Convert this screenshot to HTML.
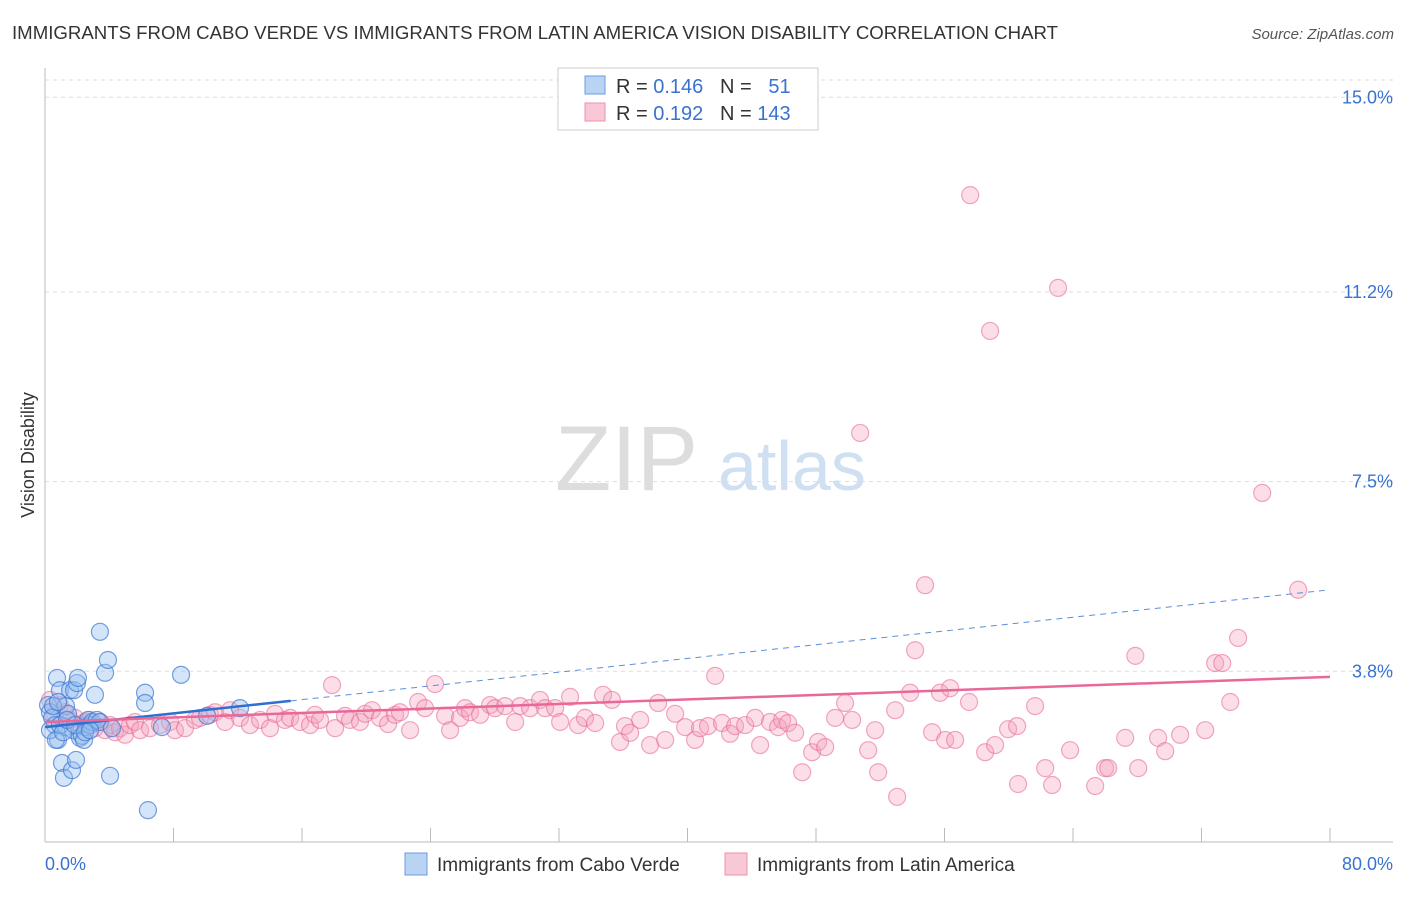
<!DOCTYPE html>
<html><head><meta charset="utf-8"><style>
body{margin:0;background:#fff;font-family:"Liberation Sans",sans-serif}
svg text{font-family:"Liberation Sans",sans-serif}
</style></head><body>
<svg id="c" width="1406" height="892">
<text x="12" y="39" font-size="18" fill="#333" textLength="1046" lengthAdjust="spacingAndGlyphs">IMMIGRANTS FROM CABO VERDE VS IMMIGRANTS FROM LATIN AMERICA VISION DISABILITY CORRELATION CHART</text>
<text x="1394" y="39" font-size="15" fill="#555" text-anchor="end" font-style="italic">Source: ZipAtlas.com</text>
<text x="555" y="490" font-size="92" fill="#ddd" font-family="Liberation Serif">ZIP</text>
<text x="718" y="490" font-size="70" fill="#cfe0f3">atlas</text>
<text transform="translate(34,455) rotate(-90)" font-size="18" fill="#333" text-anchor="middle">Vision Disability</text>
<g id="grid"></g><g id="pts"></g><g id="lines"></g>
<g>
<rect x="558" y="68" width="260" height="62" fill="#fff" stroke="#ccc"/>
<rect x="585" y="76" width="20" height="18" fill="#b9d3f3" stroke="#6a9be0"/>
<rect x="585" y="103" width="20" height="18" fill="#f9c8d6" stroke="#ee90ad"/>
<text x="616" y="93" font-size="20" fill="#333">R = <tspan fill="#3a72d0">0.146</tspan>&#160;&#160;&#160;N = &#160;&#160;<tspan fill="#3a72d0">51</tspan></text>
<text x="616" y="120" font-size="20" fill="#333">R = <tspan fill="#3a72d0">0.192</tspan>&#160;&#160;&#160;N = <tspan fill="#3a72d0">143</tspan></text>
</g>
<g>
<rect x="405" y="853" width="22" height="22" fill="#b9d3f3" stroke="#6a9be0"/>
<text x="437" y="871" font-size="19" fill="#333">Immigrants from Cabo Verde</text>
<rect x="725" y="853" width="22" height="22" fill="#f9c8d6" stroke="#ee90ad"/>
<text x="757" y="871" font-size="19" fill="#333">Immigrants from Latin America</text>
</g>
<text x="45" y="870" font-size="18" fill="#3a72d0">0.0%</text>
<text x="1393" y="870" font-size="18" fill="#3a72d0" text-anchor="end">80.0%</text>
</svg>
<script>
const yTicks=[15.0,11.2,7.5,3.8];
const xTicks=[0,8,16,24,32,40,48,56,64,72,80];
const blueX=[0.19,0.31,0.44,0.62,0.75,0.81,0.93,1.06,1.18,1.25,1.31,1.43,1.56,1.68,1.74,1.81,1.93,1.99,2.05,2.18,2.30,2.43,2.55,2.68,2.80,2.93,3.11,3.24,3.42,3.42,3.74,3.92,4.05,4.17,6.23,6.23,6.41,7.28,8.47,10.09,12.14,0.31,0.50,0.68,0.93,0.81,1.12,1.37,1.87,2.49,2.80];
const blueY=[3.14,3.00,2.89,2.75,3.67,2.46,3.43,2.01,1.72,2.71,3.12,2.97,3.43,1.87,2.65,3.43,2.07,3.57,3.67,2.50,2.54,2.46,2.71,2.85,2.75,2.81,3.34,2.85,4.57,2.81,3.77,4.02,1.76,2.69,3.38,3.18,1.09,2.71,3.73,2.93,3.08,2.65,3.12,2.46,2.75,3.20,2.61,2.85,2.75,2.61,2.65];
const pinkX=[0.31,0.62,0.93,1.25,1.56,1.87,2.18,2.49,2.80,3.11,3.42,3.74,4.05,4.36,4.67,4.98,5.29,5.60,5.92,6.54,7.16,7.78,8.09,8.72,9.34,9.65,10.27,10.59,11.21,11.52,12.14,12.76,13.39,14.01,14.32,14.94,15.26,15.88,16.50,16.81,17.12,17.87,18.06,18.68,18.99,19.61,19.93,20.36,20.86,21.36,21.79,22.10,22.73,23.23,23.66,24.28,24.91,25.22,25.84,26.15,26.46,27.09,27.71,28.02,28.64,29.27,29.58,30.20,30.82,31.13,31.76,32.07,32.69,33.19,33.62,34.25,34.74,35.30,35.80,36.11,36.43,37.05,37.67,38.17,38.61,39.23,39.85,40.47,40.78,41.28,41.72,42.15,42.65,42.96,43.59,44.21,44.52,45.14,45.64,45.89,46.26,46.70,47.14,47.76,48.13,48.57,49.19,49.81,50.25,50.75,51.25,51.68,51.87,52.93,53.05,53.86,54.17,54.79,55.23,55.72,56.04,56.35,56.66,57.53,57.60,58.53,58.84,59.15,59.96,60.52,60.58,61.64,62.27,62.70,63.07,63.82,65.38,66.00,66.19,67.25,67.88,68.06,69.30,69.74,70.67,72.23,72.85,73.29,73.79,74.28,75.78,78.02];
const pinkY=[3.24,2.95,3.14,3.00,2.85,2.89,2.75,2.81,2.85,2.69,2.81,2.65,2.75,2.61,2.69,2.56,2.75,2.81,2.65,2.69,2.75,2.81,2.65,2.69,2.85,2.89,2.95,3.00,2.81,3.04,2.89,2.75,2.85,2.69,2.97,2.85,2.89,2.81,2.75,2.95,2.85,3.53,2.69,2.93,2.85,2.81,2.97,3.04,2.89,2.77,2.95,3.00,2.65,3.20,3.08,3.55,2.93,2.65,2.89,3.08,3.00,2.95,3.14,3.08,3.12,2.81,3.12,3.08,3.24,3.08,3.08,2.81,3.30,2.75,2.89,2.79,3.34,3.24,2.42,2.73,2.60,2.85,2.36,3.18,2.46,2.97,2.71,2.46,2.69,2.73,3.71,2.79,2.58,2.73,2.75,2.89,2.36,2.81,2.71,2.85,2.79,2.60,1.83,2.22,2.42,2.32,2.89,3.18,2.85,8.45,2.26,2.65,1.83,3.04,1.35,3.38,4.21,5.48,2.61,3.38,2.46,3.47,2.46,3.20,13.09,2.22,10.44,2.36,2.67,2.73,1.60,3.12,1.91,1.58,11.28,2.26,1.56,1.91,1.91,2.50,4.10,1.91,2.50,2.24,2.56,2.65,3.96,3.96,3.20,4.45,7.28,5.39];
const blueFit=[2.71,0.0335,15.3];
const pinkFit=[2.81,0.011];
const NS='http://www.w3.org/2000/svg';
const X=v=>45+v/80*1285, Y=v=>866-v*51.25;
function mk(t,a,p){const e=document.createElementNS(NS,t);for(const k in a)e.setAttribute(k,a[k]);p.appendChild(e);return e;}
const grid=document.getElementById('grid'),pts=document.getElementById('pts'),lines=document.getElementById('lines');
mk('line',{x1:45,y1:68,x2:45,y2:842,stroke:'#bbb'},grid);
mk('line',{x1:45,y1:842,x2:1393,y2:842,stroke:'#bbb'},grid);
mk('line',{x1:45,y1:80,x2:1393,y2:80,stroke:'#ddd','stroke-dasharray':'4,4'},grid);
yTicks.forEach(v=>{
const l=mk('line',{x1:45,y1:Y(v),x2:1393,y2:Y(v),stroke:'#ddd','stroke-dasharray':'4,4'},grid);


const t=mk('text',{x:1393,y:Y(v)+6,'font-size':18,fill:'#3a72d0','text-anchor':'end'},grid);t.textContent=v.toFixed(1)+'%';


});
xTicks.forEach(v=>{
const l=mk('line',{x1:X(v),y1:828,x2:X(v),y2:842,stroke:'#bbb'},grid);


});
pinkX.forEach((x,i)=>{
const c=mk('circle',{cx:X(x),cy:Y(pinkY[i]),r:8.5,fill:'rgba(244,160,188,0.35)',stroke:'rgba(232,110,150,0.6)','stroke-width':1.2},pts);


});
blueX.forEach((x,i)=>{
const c=mk('circle',{cx:X(x),cy:Y(blueY[i]),r:8.5,fill:'rgba(150,190,240,0.4)',stroke:'rgba(60,120,210,0.7)','stroke-width':1.2},pts);


});
const bf=v=>blueFit[0]+blueFit[1]*v, pf=v=>pinkFit[0]+pinkFit[1]*v;
let l=mk('line',{x1:X(blueFit[2]),y1:Y(bf(blueFit[2])),x2:X(80),y2:Y(bf(80)),stroke:'#5a8fd8','stroke-width':1,'stroke-dasharray':'6,5'},lines);


l=mk('line',{x1:X(0),y1:Y(bf(0)),x2:X(blueFit[2]),y2:Y(bf(blueFit[2])),stroke:'#2f6fd0','stroke-width':2.5},lines);


l=mk('line',{x1:X(0),y1:Y(pf(0)),x2:X(80),y2:Y(pf(80)),stroke:'#e8689a','stroke-width':2.5},lines);


</script>
</body></html>
